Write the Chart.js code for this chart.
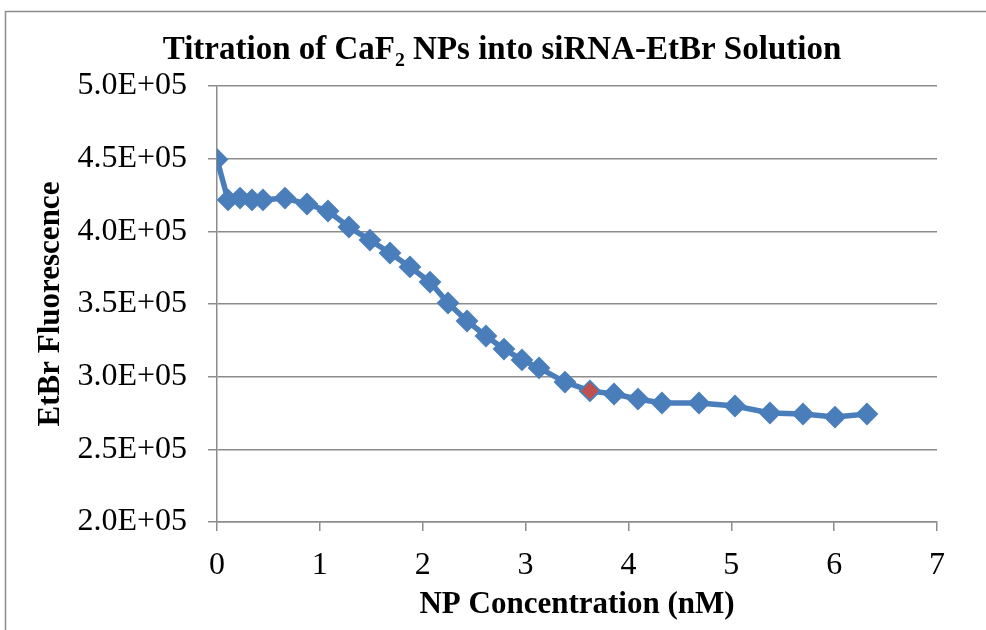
<!DOCTYPE html>
<html>
<head>
<meta charset="utf-8">
<script src="https://cdn.jsdelivr.net/npm/chart.js@4.4.1/dist/chart.umd.min.js"></script>
<style>
html,body{margin:0;padding:0;background:#fff;}
#wrap{width:986px;height:630px;position:relative;}
</style>
</head>
<body>
<div id="wrap"><canvas id="c" width="986" height="630"></canvas></div>
<script>
// NP concentration (nM)
const concentration = [0, 0.107, 0.224, 0.340, 0.447, 0.661, 0.875, 1.079, 1.283, 1.487, 1.682, 1.876, 2.071, 2.246, 2.431, 2.615, 2.790, 2.965, 3.131, 3.383, 3.626, 3.860, 4.093, 4.326, 4.686, 5.036, 5.376, 5.697, 6.008, 6.319];
// EtBr fluorescence
const fluorescence = [449500, 421600, 422900, 421600, 421600, 422900, 418800, 414000, 403000, 394000, 385100, 375500, 365100, 350700, 338300, 328000, 319000, 311500, 306000, 296300, 290200, 288100, 284600, 281900, 281900, 279800, 275000, 274300, 272200, 274300];
const highlightIndex = 20;
const xTicks = [0, 1, 2, 3, 4, 5, 6, 7];
const yTicks = [200000, 250000, 300000, 350000, 400000, 450000, 500000];

const chartTitle = 'Titration of CaF\u2082 NPs into siRNA-EtBr Solution';
const xTitle = 'NP Concentration (nM)';
const yTitle = 'EtBr Fluorescence';

const blue = '#4a7ebb';
const red = '#c0504d';
const gridColor = '#8c8c8c';

const points = concentration.map((x, i) => ({x: x, y: fluorescence[i]}));
const pointFill = concentration.map((_, i) => i === highlightIndex ? red : blue);

const frame = {
  id: 'frame',
  beforeDraw(chart) {
    const ctx = chart.ctx;
    ctx.save();
    ctx.fillStyle = '#fff';
    ctx.fillRect(0, 0, chart.width, chart.height);
    ctx.strokeStyle = '#8c8c8c';
    ctx.lineWidth = 1.5;
    ctx.strokeRect(5.5, 11.5, 2000, 2000);
    ctx.restore();
  },
  afterDraw(chart) {
    const ctx = chart.ctx;
    ctx.save();
    ctx.fillStyle = '#000';
    ctx.font = 'bold 33px "Liberation Serif"';
    ctx.textAlign = 'center';
    ctx.textBaseline = 'middle';
    ctx.fillText(chartTitle, 502, 50);
    ctx.restore();
  }
};

new Chart(document.getElementById('c'), {
  type: 'scatter',
  data: {
    datasets: [{
      data: points,
      showLine: true,
      borderColor: blue,
      borderWidth: 5.5,
      pointStyle: 'rectRot',
      pointRadius: 10,
      pointHoverRadius: 10,
      pointBackgroundColor: pointFill,
      pointBorderColor: blue,
      pointBorderWidth: 2,
      tension: 0
    }]
  },
  options: {
    responsive: false,
    animation: false,
    layout: {padding: {top: 86, left: 10, right: 49, bottom: 0}},
    plugins: {
      legend: {display: false},
      tooltip: {enabled: false},
      title: {display: false}
    },
    scales: {
      x: {
        type: 'linear',
        min: 0, max: 7,
        afterBuildTicks(scale) { scale.ticks = xTicks.map(v => ({value: v})); },
        afterFit(scale) { scale.height = 108; },
        ticks: {color: '#000', font: {family: 'Liberation Serif', size: 32}, padding: 15, maxRotation: 0},
        grid: {drawOnChartArea: false, drawTicks: true, tickLength: 9, color: gridColor, lineWidth: 1.5},
        border: {display: true, color: gridColor, width: 1.5},
        title: {display: true, text: xTitle, color: '#000', font: {family: 'Liberation Serif', size: 31, weight: 'bold', lineHeight: 1.2}, padding: {top: 0, bottom: 6}}
      },
      y: {
        type: 'linear',
        min: 200000, max: 500000,
        afterBuildTicks(scale) { scale.ticks = yTicks.map(v => ({value: v})); },
        afterFit(scale) { scale.width = 207; },
        ticks: {color: '#000', font: {family: 'Liberation Serif', size: 32}, padding: 21,
          callback: v => (v / 100000).toFixed(1) + 'E+05'},
        grid: {drawOnChartArea: true, drawTicks: true, tickLength: 9, color: gridColor, lineWidth: 1.5},
        border: {display: true, color: gridColor, width: 1.5},
        title: {display: true, text: yTitle, color: '#000', font: {family: 'Liberation Serif', size: 31, weight: 'bold', lineHeight: 1.2}, padding: {top: 22, bottom: 0}}
      }
    }
  },
  plugins: [frame]
});
</script>
</body>
</html>
